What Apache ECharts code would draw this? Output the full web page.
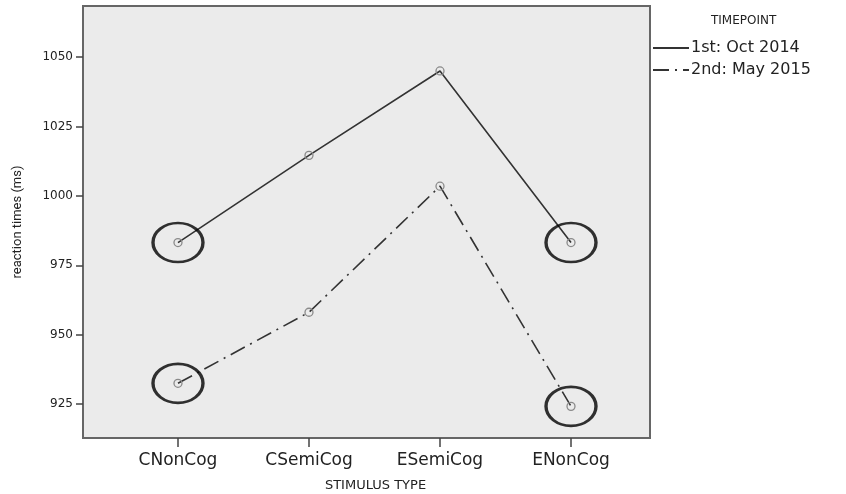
<!DOCTYPE html>
<html>
<head>
<meta charset="utf-8">
<script src="https://cdn.jsdelivr.net/npm/echarts@6/dist/echarts.min.js"></script>
<style>
  html, body { margin: 0; padding: 0; background: #fff; }
  #chart { width: 846px; height: 494px; }
</style>
</head>
<body>
<div id="chart"></div>
<script>
  // data
  var categories = ['CNonCog', 'CSemiCog', 'ESemiCog', 'ENonCog'];
  var yTicks = [925, 950, 975, 1000, 1025, 1050];
  var firstOct2014 = [983.2, 1014.6, 1045.0, 983.2];
  var secondMay2015 = [932.5, 958.1, 1003.5, 924.2];
  var circled = [0, 3];   // category indexes the author ringed

  function toPoints(values) {
    return values.map(function (v, i) { return [i, v]; });
  }

  var rings = [];
  circled.forEach(function (i) {
    rings.push([i, firstOct2014[i]]);
    rings.push([i, secondMay2015[i]]);
  });

  var markerStyle = { color: 'rgba(0,0,0,0)', borderColor: '#8a8a8a', borderWidth: 1.3 };

  var myChart = echarts.init(document.getElementById('chart'));
  myChart.setOption({
    animation: false,
    backgroundColor: '#fff',
    title: {
      text: 'TIMEPOINT',
      left: 706,
      top: 10,
      textStyle: { fontFamily: 'DejaVu Sans', fontSize: 12, fontWeight: 'normal', color: '#222' }
    },
    legend: {
      orient: 'vertical',
      left: 647,
      top: 35,
      itemWidth: 36,
      itemHeight: 14,
      itemGap: 6,
      itemStyle: { opacity: 0 },
      textStyle: { fontFamily: 'DejaVu Sans', fontSize: 16, color: '#222', padding: [0, 0, 0, -3] },
      data: ['1st: Oct 2014', '2nd: May 2015']
    },
    grid: {
      left: 83,
      top: 6,
      right: 196,
      bottom: 56,
      outerBoundsMode: 'none',
      show: true,
      backgroundColor: '#ebebeb',
      borderColor: '#666',
      borderWidth: 2
    },
    xAxis: {
      type: 'value',
      min: -0.725,
      max: 3.603,
      name: 'STIMULUS TYPE',
      nameLocation: 'middle',
      nameGap: 41,
      nameTextStyle: { fontFamily: 'DejaVu Sans', fontSize: 13, color: '#222', padding: [0, 0, 0, 18] },
      axisLine: { show: false, onZero: false },
      splitLine: { show: false },
      axisTick: { show: true, length: 9, customValues: [0, 1, 2, 3], lineStyle: { color: '#444', width: 1.5 } },
      axisLabel: {
        customValues: [0, 1, 2, 3],
        margin: 14,
        fontFamily: 'DejaVu Sans',
        fontSize: 17,
        color: '#222',
        formatter: function (v) { return categories[Math.round(v)]; }
      }
    },
    yAxis: {
      type: 'value',
      min: 912.8,
      max: 1068.4,
      name: 'reaction times (ms)',
      nameLocation: 'middle',
      nameGap: 59,
      nameTextStyle: { fontFamily: 'Roboto', fontSize: 13, color: '#222' },
      axisLine: { show: false, onZero: false },
      splitLine: { show: false },
      axisTick: { show: true, length: 7, customValues: yTicks, lineStyle: { color: '#444', width: 1.5 } },
      axisLabel: {
        customValues: yTicks,
        margin: 10,
        fontFamily: 'DejaVu Sans',
        fontSize: 12,
        color: '#222',
        formatter: function (v) { return String(v); }
      }
    },
    series: [
      {
        name: '1st: Oct 2014',
        type: 'line',
        data: toPoints(firstOct2014),
        symbol: 'circle',
        symbolSize: 8,
        lineStyle: { color: '#333', width: 1.6, type: 'solid' },
        itemStyle: markerStyle
      },
      {
        name: '2nd: May 2015',
        type: 'line',
        data: toPoints(secondMay2015),
        symbol: 'circle',
        symbolSize: 8,
        lineStyle: { color: '#333', width: 1.6, type: [16, 6, 2, 6] },
        itemStyle: markerStyle
      },
      {
        name: 'rings',
        type: 'scatter',
        data: rings,
        symbol: 'circle',
        symbolSize: [50, 39],
        silent: true,
        z: 5,
        itemStyle: { color: 'rgba(0,0,0,0)', borderColor: '#000', borderWidth: 3 }
      }
    ]
  });
</script>
</body>
</html>
